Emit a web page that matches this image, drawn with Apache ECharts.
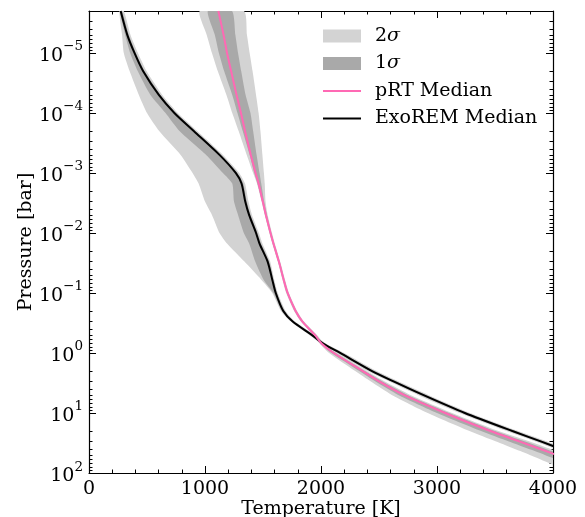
<!DOCTYPE html>
<html><head><meta charset="utf-8">
<script src="https://cdn.jsdelivr.net/npm/echarts@6/dist/echarts.min.js"></script>
<style>html,body{margin:0;padding:0;background:#fff}#c{width:585px;height:517px}</style>
</head><body><div id="c"></div>
<script>
// Pressure levels [bar]
const pressure = [2e-6, 5e-6, 1e-5, 2e-5, 5e-5, 1e-4, 2e-4, 5e-4, 1e-3, 1.5e-3, 3e-3, 5e-3, 1e-2, 1.5e-2, 3e-2, 6e-2, 0.1, 0.2, 0.3, 0.5, 0.7, 1, 2, 3, 5, 10, 20, 30, 50, 100];

// pRT retrieval: temperature [K]
const prtMedian = [1115, 1160, 1190, 1225, 1272, 1310, 1345, 1395, 1436, 1462, 1498, 1525, 1565, 1590, 1637, 1678, 1712, 1781, 1840, 1947, 2007, 2110, 2360, 2505, 2715, 3070, 3460, 3715, 4030, 4450];
const prt2Lo = [955, 1015, 1060, 1110, 1185, 1235, 1290, 1360, 1415, 1448, 1488, 1515, 1555, 1580, 1627, 1668, 1700, 1768, 1826, 1932, 1990, 2070, 2295, 2430, 2610, 2920, 3280, 3510, 3800, 4200];
const prt2Hi = [1335, 1362, 1385, 1410, 1440, 1462, 1478, 1495, 1508, 1515, 1522, 1540, 1578, 1602, 1648, 1690, 1724, 1794, 1854, 1965, 2030, 2140, 2395, 2550, 2770, 3130, 3530, 3800, 4120, 4560];
const prt1Lo = [1025, 1085, 1120, 1165, 1235, 1280, 1325, 1385, 1425, 1452, 1492, 1518, 1558, 1583, 1630, 1672, 1705, 1773, 1832, 1940, 1998, 2090, 2330, 2470, 2665, 3000, 3380, 3620, 3930, 4340];
const prt1Hi = [1232, 1262, 1285, 1312, 1350, 1392, 1415, 1445, 1470, 1485, 1510, 1534, 1572, 1597, 1644, 1685, 1719, 1789, 1848, 1957, 2020, 2128, 2378, 2530, 2745, 3105, 3500, 3760, 4080, 4510];

// ExoREM retrieval: temperature [K]
const exoMedian = [273, 330, 392, 466, 602, 736, 903, 1125, 1265, 1315, 1347, 1380, 1440, 1470, 1540, 1580, 1610, 1675, 1756, 1920, 2020, 2165, 2440, 2630, 2880, 3240, 3650, 3900, 4200, 4600];
const exo2Lo = [262, 285, 300, 350, 430, 500, 605, 790, 893, 945, 1000, 1060, 1125, 1190, 1340, 1485, 1580, 1655, 1738, 1898, 2000, 2130, 2400, 2590, 2835, 3195, 3600, 3850, 4150, 4540];
const exo2Hi = [300, 358, 422, 496, 632, 766, 933, 1155, 1295, 1345, 1375, 1405, 1465, 1495, 1562, 1597, 1628, 1695, 1776, 1945, 2045, 2200, 2480, 2670, 2925, 3285, 3700, 3950, 4250, 4660];
const exo1Lo = [266, 312, 355, 420, 530, 660, 780, 1010, 1155, 1235, 1250, 1285, 1335, 1381, 1433, 1505, 1590, 1663, 1746, 1910, 2008, 2150, 2420, 2610, 2858, 3218, 3625, 3875, 4175, 4570];
const exo1Hi = [285, 344, 405, 479, 616, 750, 917, 1139, 1280, 1330, 1361, 1393, 1453, 1483, 1553, 1590, 1620, 1687, 1766, 1932, 2032, 2182, 2460, 2650, 2902, 3262, 3675, 3925, 4225, 4630];

// Axis ticks
const xTicks = [0, 1000, 2000, 3000, 4000];
const yMajor = [1e-5, 1e-4, 1e-3, 1e-2, 1e-1, 1, 10, 100];
const yMin = 2e-6, yMax = 100;
const yMinor = [];
for (let e = -6; e <= 1; e++) for (let k = 2; k <= 9; k++) {
  const v = k * Math.pow(10, e);
  if (v > yMin * 1.01 && v < yMax) yMinor.push(v);
}

const FONT = 'DejaVu Serif';
const C2 = '#d3d3d3', C1 = '#a9a9a9', PINK = '#ff69b4';
const LINE_ICON = 'path://M0,0 M38,13 M0,5.5 L38,5.5 L38,7.5 L0,7.5 Z';

function bandSeries(name, color, bands) {
  return {
    type: 'custom', name: name, coordinateSystem: 'cartesian2d', clip: true,
    itemStyle: { color: color }, silent: true,
    data: bands.map((b, i) => [i, 1]),
    renderItem: function (params, api) {
      const b = bands[params.dataIndex];
      const pts = [];
      for (let i = 0; i < pressure.length; i++) pts.push(api.coord([b[0][i], pressure[i]]));
      for (let i = pressure.length - 1; i >= 0; i--) pts.push(api.coord([b[1][i], pressure[i]]));
      return { type: 'polygon', shape: { points: pts, smooth: 0.2 }, style: { fill: color, stroke: null } };
    }
  };
}

function lineSeries(name, color, temps, z) {
  return {
    type: 'line', name: name, symbol: 'none', showSymbol: false, z: z, smooth: 0.25,
    lineStyle: { color: color, width: 2 }, itemStyle: { color: color },
    data: temps.map((t, i) => [t, pressure[i]])
  };
}

const yFmt = v => {
  const e = Math.round(Math.log10(v));
  return '{b|10}{s|' + (e < 0 ? '\u2212' + (-e) : String(e)) + '}';
};
const yRich = {
  b: { fontFamily: FONT, fontSize: 19, color: '#000', lineHeight: 26, verticalAlign: 'bottom' },
  s: { fontFamily: FONT, fontSize: 13.5, color: '#000', lineHeight: 26, verticalAlign: 'top' }
};

function yAxisDef(pos, major, showLabel, showLine) {
  const a = {
    type: 'log', logBase: 10, min: yMin, max: yMax, inverse: true, position: pos,
    axisLine: { show: showLine, lineStyle: { color: '#000', width: 1.2 } },
    axisTick: { show: true, inside: true, length: major ? 7 : 3.5, customValues: major ? yMajor : yMinor, lineStyle: { color: '#000', width: 1 } },
    minorTick: { show: false }, splitLine: { show: false }, minorSplitLine: { show: false },
    axisLabel: { show: showLabel, customValues: yMajor, formatter: yFmt, rich: yRich, margin: 6 }
  };
  if (showLabel) {
    a.name = 'Pressure [bar]'; a.nameLocation = 'middle'; a.nameGap = 53; a.nameRotate = 90;
    a.nameMoveOverlap = false;
    a.nameTextStyle = { fontFamily: FONT, fontSize: 19, color: '#000' };
  }
  return a;
}
function xAxisDef(pos, showLabel) {
  const a = {
    type: 'value', min: 0, max: 4000, interval: 1000, position: pos,
    axisLine: { show: true, lineStyle: { color: '#000', width: 1.2 } },
    axisTick: { show: true, inside: true, length: 7, lineStyle: { color: '#000', width: 1 } },
    minorTick: { show: true, splitNumber: 5, length: 3.5, lineStyle: { color: '#000', width: 1 } },
    splitLine: { show: false }, minorSplitLine: { show: false },
    axisLabel: { show: showLabel, fontFamily: FONT, fontSize: 19, color: '#000', margin: 7,
      customValues: xTicks, formatter: v => String(v) }
  };
  if (showLabel) {
    a.name = 'Temperature [K]'; a.nameLocation = 'middle'; a.nameGap = 27;
    a.nameMoveOverlap = false;
    a.nameTextStyle = { fontFamily: FONT, fontSize: 19, color: '#000' };
  }
  return a;
}

const chart = echarts.init(document.getElementById('c'), null, { renderer: 'canvas' });
chart.setOption({
  animation: false,
  backgroundColor: '#fff',
  grid: { left: 89, right: 32, top: 11, bottom: 44, containLabel: false, outerBoundsMode: 'none' },
  xAxis: [xAxisDef('bottom', true), xAxisDef('top', false)],
  yAxis: [yAxisDef('left', true, true, true), yAxisDef('left', false, false, false),
          yAxisDef('right', true, false, true), yAxisDef('right', false, false, false)],
  legend: {
    orient: 'vertical', left: 323, top: 26, padding: 0, itemWidth: 38, itemHeight: 13, itemGap: 7.5,
    selectedMode: false,
    textStyle: { fontFamily: FONT, fontSize: 19, color: '#000', lineHeight: 20, padding: [0, 0, 0, 9],
      rich: { i: { fontFamily: FONT, fontSize: 19, fontStyle: 'italic', color: '#000' } } },
    formatter: n => n.replace('\u03c3', '{i|\u03c3}'),
    data: [{ name: '2\u03c3', icon: 'rect' }, { name: '1\u03c3', icon: 'rect' },
           { name: 'pRT Median', icon: LINE_ICON }, { name: 'ExoREM Median', icon: LINE_ICON }]
  },
  series: [
    bandSeries('2\u03c3', C2, [[prt2Lo, prt2Hi], [exo2Lo, exo2Hi]]),
    bandSeries('1\u03c3', C1, [[prt1Lo, prt1Hi], [exo1Lo, exo1Hi]]),
    lineSeries('ExoREM Median', '#000', exoMedian, 5),
    lineSeries('pRT Median', PINK, prtMedian, 6)
  ]
});
</script></body></html>
